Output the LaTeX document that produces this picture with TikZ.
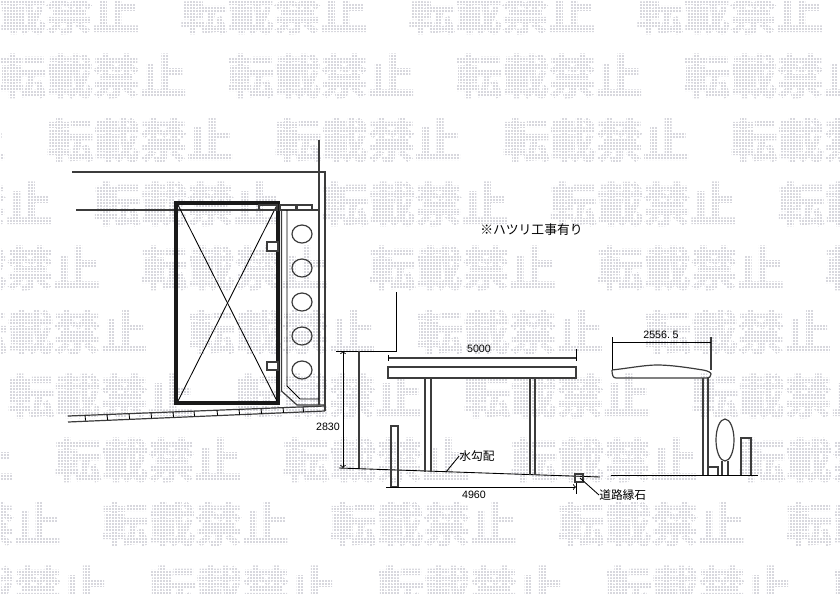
\documentclass[tikz,border=0pt]{standalone}
\usepackage{fontspec}
\setmainfont{Liberation Sans}
\newfontfamily\jpfont{Noto Sans CJK JP}
\newfontfamily\jpbold[FakeBold=2.5]{Noto Sans CJK JP Bold}
\definecolor{linegray}{HTML}{3C3C3C}
\definecolor{markgray}{HTML}{D8D8DE}
\tikzset{
  plan/.style={linegray,line width=0.9pt},
  thin plan/.style={black,line width=0.65pt},
  door/.style={black!90,line width=2.6pt},
  markword/.style={markgray,font=\jpbold\fontsize{35}{35}\selectfont,inner sep=0pt},
  label/.style={black,font=\fontsize{8}{8}\selectfont,inner sep=0pt},
  jplabel/.style={black,font=\jpfont\fontsize{8.8}{9}\selectfont,inner sep=0pt}
}

\begin{document}
\begin{tikzpicture}[x=0.75pt,y=-0.75pt]
  \useasboundingbox (0,0) rectangle (840,594);

  % Watermark rows
  \foreach \row in {1,...,10}{
    \foreach \k in {-3,...,4}{
      \node[markword] (mark\row-\k) at ({93+(\row-2)*47.2+\k*228},{76+(\row-2)*64}) {転載禁止};
    }
  }
  % Dot raster over the watermark
  \foreach \i in {0,3,...,840}{
    \draw[white,line width=0.6pt] (\i,0) -- (\i,594);
  }
  \foreach \i in {0,3,...,594}{
    \draw[white,line width=0.6pt] (0,\i) -- (840,\i);
  }

  % Boundary lines of the plan
  \draw[plan] (319,140) -- (319,405);
  \draw[plan] (72,172) -- (325,172) -- (325,411);
  \draw[plan] (76,210) -- (319,210);

  % Door panel
  \draw[door] (176,203) rectangle (278,403);
  \draw[thin plan] (178,205) -- (277,401);
  \draw[thin plan] (277,205) -- (178,401);
  \draw[plan,fill=white] (267,242) rectangle (278,251);
  \draw[plan,fill=white] (267,362) rectangle (278,370);

  % Small slabs at the top
  \draw[plan] (259,205) rectangle (277,210);
  \draw[plan] (280,205) rectangle (296,210);
  \draw[plan] (297,205) rectangle (312,210);

  % Planting bed
  \draw[plan] (281.5,210) -- (281.5,391) -- (297,405) -- (325,405);
  \draw[thin plan] (287,210) -- (287,386) -- (300,399) -- (319,399);
  \foreach \cy in {234,268,302,336,370}{
    \draw[plan] (302,\cy) ellipse[x radius=10,y radius=9];
  }

  % Sloped kerb
  \draw[plan] (68,416) -- (325,406);
  \draw[plan] (68,422) -- (325,411);
  \foreach \cx/\cy in {85/415.3,107/414.5,129/413.6,151/412.8,173/411.9,194/411.1,217/410.2,239/409.3,261/408.5,283/407.6,303/406.9}{
    \draw[thin plan] (\cx,\cy) -- (\cx+0.6,\cy+5.3);
  }

  % Wall behind the carport
  \draw[thin plan] (396,292) -- (396,351) -- (336,351);
  \draw[plan] (359,351) -- (359,469);

  % Height
  \draw[thin plan,<->] (343,351) -- (343,468);
  \node[label] (height) at (328,427) {2830};

  % Ground
  \draw[thin plan] (339,468) -- (600,477);
  \draw[plan] (391,426) rectangle (398,487);

  % Carport front
  \draw[plan,fill=white] (388,367) rectangle (576,378);
  \draw[plan] (425,378) -- (425,472);
  \draw[plan] (431,378) -- (431,472);
  \draw[plan] (530,378) -- (530,475);
  \draw[plan] (535,378) -- (535,475);

  % Width over the roof
  \draw[plan] (388,358) -- (576,358);
  \draw[thin plan] (388,355) -- (388,361);
  \draw[thin plan] (576,349) -- (576,361);
  \node[label] (roofwidth) at (479,349) {5000};

  % Width at the ground
  \draw[thin plan,->] (386,487) -- (576,487);
  \draw[thin plan] (576,482) -- (576,494);
  \node[label] (groundwidth) at (474,495) {4960};

  % Fall of the ground
  \node[jplabel] (fall) at (477,456) {水勾配};
  \coordinate (fallend) at (446,472);
  \draw[thin plan] (fall.west) -- (fallend);

  % Kerb stone
  \draw[plan] (575,474) rectangle (583,482);
  \node[jplabel,anchor=west] (kerbstone) at (599,495) {道路縁石};
  \coordinate (kerbend) at (580,478);
  \draw[thin plan] (kerbstone.west) -- (kerbend);

  % Note
  \node[jplabel,anchor=west,font=\jpfont\fontsize{9.6}{10}\selectfont] (note) at (480,230) {※ハツリ工事有り};

  % Carport side
  \draw[thin plan] (612,337) -- (612,370);
  \draw[plan] (711,337) -- (711,370);
  \draw[thin plan] (612,342) -- (711,342);
  \node[label] (sidewidth) at (661,335) {2556.\kern2pt5};
  \draw[plan] (612,370) .. controls (630,368) and (645,365) .. (657,365)
    .. controls (672,365) and (690,368) .. (703,370)
    .. controls (709,371) and (711,373) .. (711,374)
    .. controls (711,377) and (709,378) .. (707,378)
    -- (616,378) .. controls (613,378) and (612,375) .. (612,370);
  \draw[plan] (703,378) -- (703,475);
  \draw[plan] (708,378) -- (708,475);

  % Side ground, tree and blocks
  \draw[thin plan] (611,475) -- (758,475);
  \draw[plan] (708,467) -- (718,467) -- (718,475);
  \draw[plan] (725,440) ellipse[x radius=9,y radius=21];
  \draw[plan] (722,461) -- (722,475);
  \draw[plan] (728,461) -- (728,475);
  \draw[plan] (741,475) -- (741,438) -- (751,438) -- (751,475);

\end{tikzpicture}
\end{document}
